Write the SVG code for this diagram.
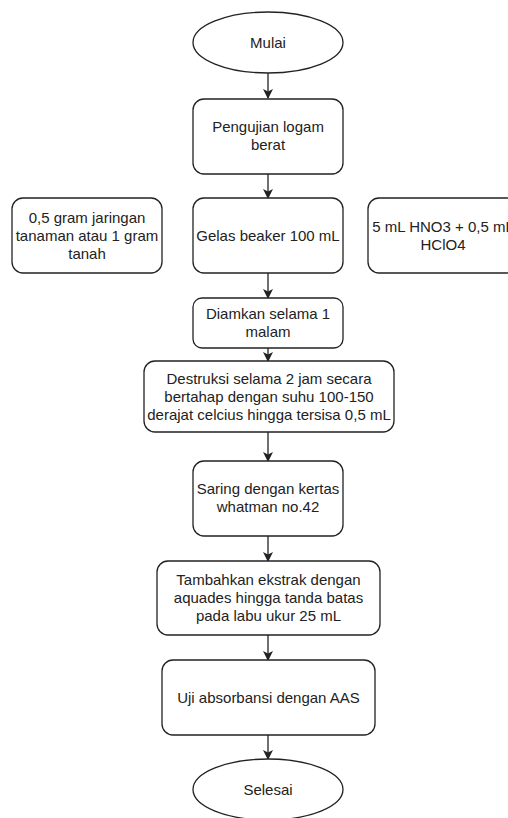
<svg xmlns="http://www.w3.org/2000/svg" width="508" height="818" viewBox="0 0 508 818">
<defs>
<style>
.n{fill:#fff;stroke:#222;stroke-width:1.3}
.t{font-family:"Liberation Sans",Arial,sans-serif;font-size:15px;fill:#222;text-anchor:middle}
.c{stroke:#222;stroke-width:1.3;fill:none}
</style>
<marker id="a" markerWidth="10" markerHeight="10" refX="9" refY="5" orient="auto" markerUnits="userSpaceOnUse">
<path d="M0,0 L10,5 L0,10 L2.5,5 Z" fill="#222"/>
</marker>
</defs>
<rect width="508" height="818" fill="#fff"/>
<g id="connectors">
<line class="c" x1="268" y1="73" x2="268" y2="98" marker-end="url(#a)"/>
<line class="c" x1="268" y1="174" x2="268" y2="198" marker-end="url(#a)"/>
<line class="c" x1="268" y1="273" x2="268" y2="298" marker-end="url(#a)"/>
<line class="c" x1="268" y1="348" x2="268" y2="361" marker-end="url(#a)"/>
<line class="c" x1="268" y1="432" x2="268" y2="461" marker-end="url(#a)"/>
<line class="c" x1="268" y1="536" x2="268" y2="561" marker-end="url(#a)"/>
<line class="c" x1="268" y1="635" x2="268" y2="660" marker-end="url(#a)"/>
<line class="c" x1="268" y1="735" x2="268" y2="759" marker-end="url(#a)"/>
</g>
<g id="mulai">
<ellipse class="n" cx="268" cy="42.5" rx="75" ry="30.5"/>
<text class="t" x="268" y="47.5">Mulai</text>
</g>
<g id="pengujian">
<rect class="n" x="193" y="99" width="150" height="75" rx="11"/>
<text class="t" x="268" y="132">Pengujian logam</text>
<text class="t" x="268" y="150">berat</text>
</g>
<g id="sampel">
<rect class="n" x="12" y="198" width="150" height="75" rx="11"/>
<text class="t" x="87" y="222.5">0,5 gram jaringan</text>
<text class="t" x="87" y="240.5">tanaman atau 1 gram</text>
<text class="t" x="87" y="258.5">tanah</text>
</g>
<g id="gelas">
<rect class="n" x="193" y="198" width="150" height="75" rx="11"/>
<text class="t" x="268" y="240.5">Gelas beaker 100 mL</text>
</g>
<g id="asam">
<rect class="n" x="368" y="198" width="150" height="75" rx="11"/>
<text class="t" x="443" y="231.5">5 mL HNO3 + 0,5 mL</text>
<text class="t" x="443" y="249.5">HClO4</text>
</g>
<g id="diamkan">
<rect class="n" x="193" y="298" width="150" height="50" rx="9"/>
<text class="t" x="268" y="319">Diamkan selama 1</text>
<text class="t" x="268" y="337">malam</text>
</g>
<g id="destruksi">
<rect class="n" x="144" y="361" width="250" height="71" rx="11"/>
<text class="t" x="269" y="383.5">Destruksi selama 2 jam secara</text>
<text class="t" x="269" y="401.5">bertahap dengan suhu 100-150</text>
<text class="t" x="269" y="419.5">derajat celcius hingga tersisa 0,5 mL</text>
</g>
<g id="saring">
<rect class="n" x="193" y="461" width="150" height="75" rx="11"/>
<text class="t" x="268" y="494">Saring dengan kertas</text>
<text class="t" x="268" y="512">whatman no.42</text>
</g>
<g id="tambahkan">
<rect class="n" x="157" y="561" width="223" height="74" rx="11"/>
<text class="t" x="268.5" y="585">Tambahkan ekstrak dengan</text>
<text class="t" x="268.5" y="603">aquades hingga tanda batas</text>
<text class="t" x="268.5" y="621">pada labu ukur 25 mL</text>
</g>
<g id="uji">
<rect class="n" x="162" y="660" width="213" height="75" rx="11"/>
<text class="t" x="268.5" y="702.5">Uji absorbansi dengan AAS</text>
</g>
<g id="selesai">
<ellipse class="n" cx="268" cy="789.5" rx="75" ry="30.5"/>
<text class="t" x="268" y="794.5">Selesai</text>
</g>
</svg>
